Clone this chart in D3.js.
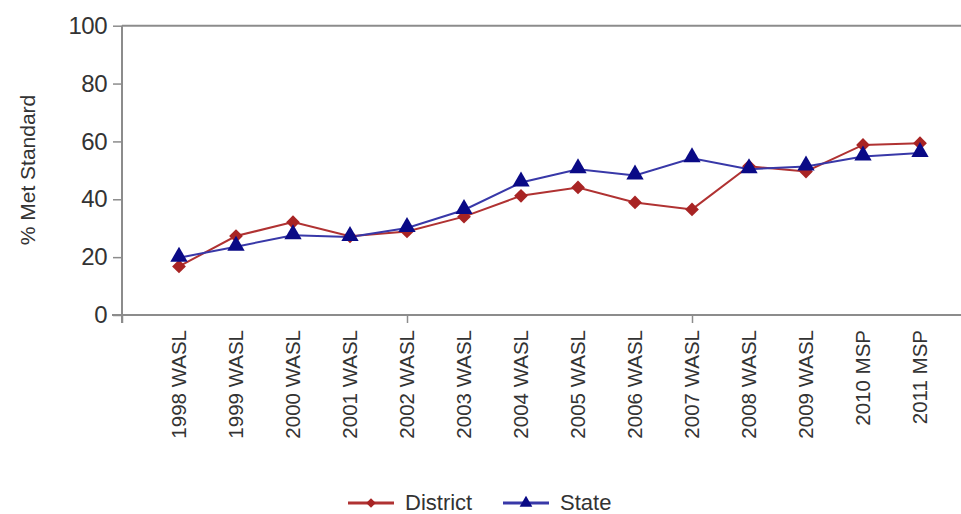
<!DOCTYPE html>
<html>
<head>
<meta charset="utf-8">
<script src="https://cdn.jsdelivr.net/npm/d3@7"></script>
<style>
  body { margin: 0; background: #fff; }
  svg { display: block; font-family: "Liberation Sans", Arial, sans-serif; }
</style>
</head>
<body>
<div id="chart"></div>
<script>
// Data
const categories = ['1998 WASL', '1999 WASL', '2000 WASL', '2001 WASL', '2002 WASL',
    '2003 WASL', '2004 WASL', '2005 WASL', '2006 WASL', '2007 WASL',
    '2008 WASL', '2009 WASL', '2010 MSP', '2011 MSP'];
const district = [16.8, 27.3, 32.1, 27.2, 28.9, 34.0, 41.2, 44.1, 38.9, 36.5, 51.4, 49.6, 58.8, 59.4];
const state = [19.8, 23.6, 27.6, 27.0, 30.1, 36.3, 45.8, 50.4, 48.2, 54.2, 50.4, 51.3, 54.8, 56.0];
const yTicks = [0, 20, 40, 60, 80, 100];

const width = 961;
const height = 514;
const colors = { district: '#b03232', districtMark: '#a82424', state: '#3838a8', stateMark: '#0a0a86' };

const svg = d3.select('#chart')
    .append('svg')
    .attr('width', width)
    .attr('height', height);

// Scales - x axis runs from one slot before the first category
const x = d3.scaleLinear()
    .domain([-1, 15])
    .range([122, 122 + 16 * 57]);

const y = d3.scaleLinear()
    .domain([0, 100])
    .range([315, 25.7]);

// Top border of the plot
svg.append('line')
    .attr('x1', x(-1)).attr('x2', width)
    .attr('y1', y(100)).attr('y2', y(100))
    .attr('stroke', '#8c8c8c')
    .attr('stroke-width', 2);

// Y axis
const yAxis = svg.append('g')
    .attr('transform', `translate(${x(-1)},0)`)
    .call(d3.axisLeft(y).tickValues(yTicks).tickSize(9).tickPadding(6));
yAxis.select('.domain').attr('stroke', '#8c8c8c').attr('stroke-width', 2)
    .attr('d', `M0,${y(0) + 8}V${y(100)}`);
yAxis.selectAll('.tick line').attr('stroke', '#8c8c8c').attr('stroke-width', 1.5);
yAxis.selectAll('.tick text')
    .attr('fill', '#333')
    .style('font-size', '24px')
    .style('font-family', '"Liberation Sans", Arial, sans-serif')
    .attr('letter-spacing', '-0.5');

// X axis - major ticks every 5 slots, labels at each category
const xAxis = svg.append('g')
    .attr('transform', `translate(0,${y(0)})`)
    .call(d3.axisBottom(x).tickValues([-1, 4, 9, 14]).tickSize(8).tickFormat(''));
xAxis.select('.domain').attr('stroke', '#8c8c8c').attr('stroke-width', 2)
    .attr('d', `M${x(-1) - 10},0H${width}`);
xAxis.selectAll('.tick line').attr('stroke', '#8c8c8c').attr('stroke-width', 1.5);

svg.append('g')
    .selectAll('text')
    .data(categories)
    .enter()
    .append('text')
    .attr('transform', (d, i) => `translate(${x(i) + 7},${y(0) + 15}) rotate(-90)`)
    .attr('text-anchor', 'end')
    .attr('fill', '#333')
    .style('font-size', '20.5px')
    .text(d => d);

// Y axis title
svg.append('text')
    .attr('transform', `translate(35,${170}) rotate(-90)`)
    .attr('text-anchor', 'middle')
    .attr('fill', '#333')
    .style('font-size', '21px')
    .text('% Met Standard');

// Lines
const line = d3.line()
    .x((d, i) => x(i))
    .y(d => y(d));

svg.append('path')
    .datum(district)
    .attr('fill', 'none')
    .attr('stroke', colors.district)
    .attr('stroke-width', 2)
    .attr('d', line);

svg.append('path')
    .datum(state)
    .attr('fill', 'none')
    .attr('stroke', colors.state)
    .attr('stroke-width', 2)
    .attr('d', line);

const diamond = d3.symbol().type(d3.symbolSquare).size(95);
const triangle = d3.symbol().type(d3.symbolTriangle).size(130);

svg.append('g')
    .selectAll('path')
    .data(district)
    .enter()
    .append('path')
    .attr('transform', (d, i) => `translate(${x(i)},${y(d)}) rotate(45)`)
    .attr('d', diamond)
    .attr('fill', colors.districtMark);

svg.append('g')
    .selectAll('path')
    .data(state)
    .enter()
    .append('path')
    .attr('transform', (d, i) => `translate(${x(i)},${y(d) - 1})`)
    .attr('d', triangle)
    .attr('fill', colors.stateMark);

// Legend
const legend = svg.append('g')
    .attr('transform', 'translate(0,503)');

const legendItems = [
    { name: 'District', x: 348, color: colors.district, mark: colors.districtMark, symbol: d3.symbol().type(d3.symbolSquare).size(45), rot: 45 },
    { name: 'State', x: 503, color: colors.state, mark: colors.stateMark, symbol: d3.symbol().type(d3.symbolTriangle).size(70), rot: 0 }
];

legendItems.forEach(item => {
    legend.append('line')
        .attr('x1', item.x).attr('x2', item.x + 46)
        .attr('y1', 0).attr('y2', 0)
        .attr('stroke', item.color)
        .attr('stroke-width', 3);
    legend.append('path')
        .attr('transform', `translate(${item.x + 23},0) rotate(${item.rot})`)
        .attr('d', item.symbol)
        .attr('fill', item.mark);
    legend.append('text')
        .attr('x', item.x + 57)
        .attr('y', 7)
        .attr('fill', '#333')
        .style('font-size', '22px')
        .text(item.name);
});
</script>
</body>
</html>
